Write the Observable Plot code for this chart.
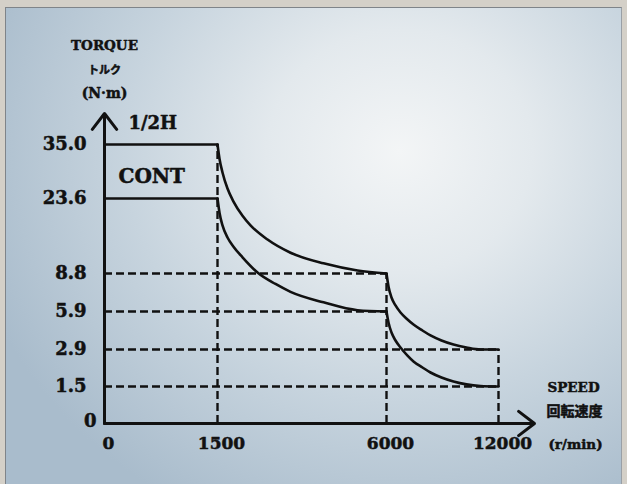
<!DOCTYPE html>
<html>
<head>
<meta charset="utf-8">
<script src="https://cdn.jsdelivr.net/npm/d3@7"></script>
<script src="https://cdn.jsdelivr.net/npm/@observablehq/plot@0.6"></script>
<style>
  html, body { margin: 0; padding: 0; width: 627px; height: 484px; overflow: hidden; }
  body { background: #d4d0c8; position: relative; }
  #panel {
    position: absolute; left: 5px; top: 7px; width: 615px; height: 477px;
    border-top: 1px solid #7f8489; border-left: 1px solid #7f8489; border-right: 1px solid #9aa0a6;
    background: radial-gradient(ellipse 72% 85% at 64% 30%, #f3f5f6 0%, #e3e9ed 30%, #c7d4de 62%, #a9bccc 100%);
  }
  #chart { position: absolute; left: 0; top: 0; }
</style>
</head>
<body>
<div id="panel"></div>
<div id="chart"></div>
<script>
// ---- data ----
const speedTicks = [0, 1500, 6000, 12000];
const speedTickLabels = ["0", "1500", "6000", "12000"];
const torqueTicks = [1.5, 2.9, 5.9, 8.8, 23.6, 35.0];
const torqueTickLabels = ["1.5", "2.9", "5.9", "8.8", "23.6", "35.0"];
const speedAxisEnd = 13900;
const torqueAxisEnd = 42;

// 1/2H (30-minute rating) curve
const halfHourSpeed  = [0, 1500,
  1500, 1553, 1633, 1766, 1926, 2166, 2379, 2832, 3444, 4323, 5228, 6000,
  6000, 6107, 6268, 6482, 6750, 7125, 7446, 7929, 8357, 8946, 9589, 10286, 11036, 12000];
const halfHourTorque = [35.0, 35.0,
  35.0, 32.0, 29.1, 25.7, 23.0, 20.2, 18.3, 15.5, 12.9, 10.8, 9.4, 8.8,
  8.8, 7.81, 6.97, 6.36, 5.82, 5.27, 4.87, 4.40, 4.01, 3.61, 3.29, 3.06, 2.9, 2.9];
const halfHourPart   = ["a", "a",
  "b","b","b","b","b","b","b","b","b","b","b","b",
  "c","c","c","c","c","c","c","c","c","c","c","c","c","c"];

// CONT (continuous rating) curve
const contSpeed  = [0, 1500,
  1500, 1553, 1633, 1766, 1926, 2166, 2565, 3045, 3444, 4323, 5228, 6000,
  6000, 6107, 6268, 6482, 6750, 7125, 7446, 7929, 8357, 8946, 9589, 10286, 11036, 12000];
const contTorque = [23.6, 23.6,
  23.6, 20.8, 18.3, 15.9, 14.1, 12.0, 9.0, 8.0, 7.4, 6.6, 6.0, 5.9,
  5.9, 5.03, 4.24, 3.61, 3.06, 2.67, 2.45, 2.22, 2.03, 1.84, 1.69, 1.58, 1.52, 1.5];
const contPart   = ["a", "a",
  "b","b","b","b","b","b","b","b","b","b","b","b",
  "c","c","c","c","c","c","c","c","c","c","c","c","c","c"];

// dashed guide lines
const guideTorque = [8.8, 5.9, 2.9, 1.5];
const guideTorqueEnd = [6000, 6000, 12000, 12000];
const guideSpeed = [1500, 6000, 12000];
const guideSpeedTop = [35.0, 8.8, 2.9];

// ---- build tables ----
const halfHour = halfHourSpeed.map((s, i) => ({speed: s, torque: halfHourTorque[i], part: halfHourPart[i]}));
const cont = contSpeed.map((s, i) => ({speed: s, torque: contTorque[i], part: contPart[i]}));
const hGuides = guideTorque.map((t, i) => ({torque: t, end: guideTorqueEnd[i]}));
const vGuides = guideSpeed.map((s, i) => ({speed: s, top: guideSpeedTop[i]}));
const yTickData = torqueTicks.map((t, i) => ({torque: t, label: torqueTickLabels[i]}));
const xTickData = speedTicks.map((s, i) => ({speed: s, label: speedTickLabels[i]}));

const serif = "'DejaVu Serif', 'Liberation Serif', serif";
const cjk = "'Noto Sans CJK JP', sans-serif";
const ink = "#111";
const bold = {fontWeight: "bold", fill: ink, stroke: ink, strokeWidth: 0.5};

const chart = Plot.plot({
  width: 627,
  height: 484,
  margin: 0,
  style: {background: "transparent", color: ink},
  x: {type: "linear", domain: [0, 1500, 6000, 12000, speedAxisEnd], range: [104, 217, 386, 498, 534], axis: null},
  y: {type: "linear", domain: [0, 1.5, 2.9, 5.9, 8.8, 23.6, 35.0, torqueAxisEnd], range: [423, 386, 349, 311, 273, 198, 144, 113], axis: null},
  marks: [
    // dashed guides
    Plot.ruleY(hGuides, {y: "torque", x1: 0, x2: "end", stroke: ink, strokeWidth: 2.4, strokeDasharray: "8,4"}),
    Plot.ruleX(vGuides, {x: "speed", y1: 0, y2: "top", stroke: ink, strokeWidth: 2.4, strokeDasharray: "8,4"}),
    // rating curves
    Plot.line(halfHour, {x: "speed", y: "torque", z: "part", stroke: ink, strokeWidth: 2.6, curve: "monotone-x"}),
    Plot.line(cont, {x: "speed", y: "torque", z: "part", stroke: ink, strokeWidth: 2.6, curve: "monotone-x"}),
    // axes with arrowheads
    Plot.arrow([{a: 0}], {x1: 0, y1: 0, x2: 0, y2: torqueAxisEnd, stroke: ink, strokeWidth: 3, headLength: 10, headAngle: 75}),
    Plot.arrow([{a: 0}], {x1: 0, y1: 0, x2: speedAxisEnd, y2: 0, stroke: ink, strokeWidth: 3, headLength: 10, headAngle: 75}),
    // tick labels
    Plot.text(yTickData, {x: 0, y: "torque", text: "label", textAnchor: "end", dx: -18, fontSize: 18, fontFamily: serif, ...bold}),
    Plot.text(["0"], {x: 0, y: 0, text: d => d, textAnchor: "end", dx: -8, dy: -2, fontSize: 18, fontFamily: serif, ...bold}),
    Plot.text(xTickData, {x: "speed", y: 0, text: "label", dx: 4, dy: 20, fontSize: 17, fontFamily: serif, ...bold}),
    // axis titles
    Plot.text(["TORQUE"], {x: 0, y: torqueAxisEnd, text: d => d, dy: -68, fontSize: 13.5, fontFamily: serif, ...bold}),
    Plot.text(["トルク"], {x: 0, y: torqueAxisEnd, text: d => d, dy: -43, fontSize: 11, fontFamily: cjk, ...bold}),
    Plot.text(["(N·m)"], {x: 0, y: torqueAxisEnd, text: d => d, dy: -20, fontSize: 14, fontFamily: serif, ...bold}),
    Plot.text(["SPEED"], {x: speedAxisEnd, y: 0, text: d => d, dx: 39, dy: -36, fontSize: 13.5, fontFamily: serif, ...bold}),
    Plot.text(["回転速度"], {x: speedAxisEnd, y: 0, text: d => d, dx: 40, dy: -12, fontSize: 14, fontFamily: cjk, ...bold}),
    Plot.text(["(r/min)"], {x: speedAxisEnd, y: 0, text: d => d, dx: 41, dy: 21, fontSize: 13.5, fontFamily: serif, ...bold}),
    // curve labels
    Plot.text(["1/2H"], {x: 0, y: 35.0, text: d => d, textAnchor: "start", dx: 24, dy: -21, fontSize: 18, fontFamily: serif, ...bold}),
    Plot.text(["CONT"], {x: 0, y: 23.6, text: d => d, textAnchor: "start", dx: 14, dy: -22, fontSize: 20, fontFamily: serif, ...bold})
  ]
});
document.getElementById("chart").append(chart);
</script>
</body>
</html>
